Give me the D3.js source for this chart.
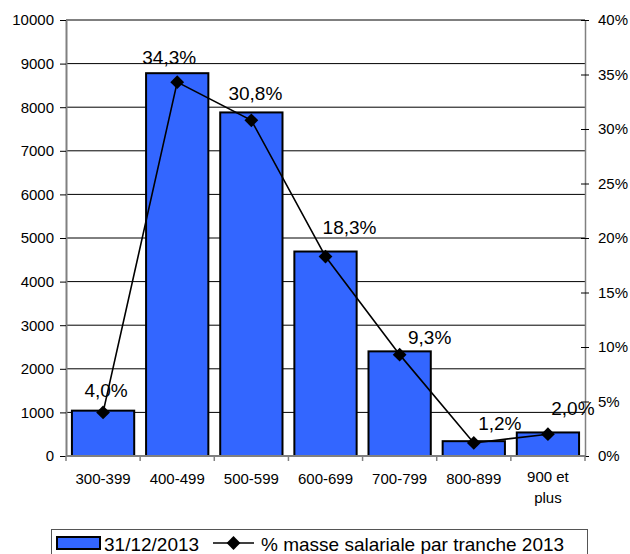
<!DOCTYPE html>
<html>
<head>
<meta charset="utf-8">
<script src="https://cdn.jsdelivr.net/npm/d3@7"></script>
<style>
  html, body { margin: 0; padding: 0; background: #fff; }
  svg text { font-family: "Liberation Sans", Arial, sans-serif; fill: #000; }
</style>
</head>
<body>
<div id="chart"></div>
<script>
// tranches de salaire + effectifs au 31/12/2013 + part de la masse salariale
const CATEGORIES = ["300-399", "400-499", "500-599", "600-699", "700-799", "800-899", "900 et plus"];
const EFFECTIFS = [1040, 8780, 7880, 4690, 2400, 340, 540];
const PCT_MASSE = [4.0, 34.3, 30.8, 18.3, 9.3, 1.2, 2.0];
const LEFT_TICKS = [0, 1000, 2000, 3000, 4000, 5000, 6000, 7000, 8000, 9000, 10000];
const RIGHT_TICKS = [0, 5, 10, 15, 20, 25, 30, 35, 40];
const SERIES_NAMES = ["31/12/2013", "% masse salariale par tranche 2013"];

// label nudges (px) relative to each marker, like the original's placement
const LABEL_NUDGE = [[3, -15], [-8, -18], [4, -20], [24, -23], [30, -11], [26, -13], [25, -19]];

const W = 630, H = 554;
const plot = { left: 66, right: 585, top: 20, bottom: 456 };
const BAR_FILL = "#3366ff";
const AXIS_GREY = "#808080";

const svg = d3.select("#chart").append("svg")
  .attr("width", W)
  .attr("height", H);

const x = d3.scaleBand()
  .domain(CATEGORIES)
  .range([plot.left, plot.right])
  .paddingInner(0.16)
  .paddingOuter(0.08);

const y = d3.scaleLinear().domain([0, 10000]).range([plot.bottom, plot.top]);
const y2 = d3.scaleLinear().domain([0, 40]).range([plot.bottom, plot.top]);

// gridlines
svg.append("g")
  .selectAll("line")
  .data(LEFT_TICKS.filter(d => d > 0))
  .join("line")
  .attr("x1", plot.left).attr("x2", plot.right)
  .attr("y1", d => y(d)).attr("y2", d => y(d))
  .attr("stroke", "#000")
  .attr("stroke-width", 1);

// left axis
const leftAxis = svg.append("g")
  .attr("transform", `translate(${plot.left},0)`)
  .call(d3.axisLeft(y).tickValues(LEFT_TICKS).tickFormat(d3.format("d"))
    .tickSize(6).tickSizeOuter(0).tickPadding(6));
leftAxis.select(".domain").attr("stroke", AXIS_GREY).attr("stroke-width", 2);
leftAxis.selectAll(".tick line").attr("stroke", "#000");
leftAxis.selectAll(".tick text").style("font-size", "15px");

// right axis (cross ticks)
const rightAxis = svg.append("g")
  .attr("transform", `translate(${plot.right},0)`)
  .call(d3.axisRight(y2).tickValues(RIGHT_TICKS).tickSize(4).tickSizeOuter(0).tickPadding(9)
    .tickFormat(d => d + "%"));
rightAxis.select(".domain").attr("stroke", AXIS_GREY).attr("stroke-width", 1.5);
rightAxis.selectAll(".tick line").attr("x1", -4).attr("stroke", "#000");
rightAxis.selectAll(".tick text").style("font-size", "15px");

// bars
svg.append("g")
  .selectAll("rect")
  .data(CATEGORIES)
  .join("rect")
  .attr("x", d => x(d))
  .attr("y", (d, i) => y(EFFECTIFS[i]))
  .attr("width", x.bandwidth())
  .attr("height", (d, i) => y(0) - y(EFFECTIFS[i]))
  .attr("fill", BAR_FILL)
  .attr("stroke", "#000")
  .attr("stroke-width", 2);

// bottom axis
const step = x.step();
const bottom = svg.append("g");
bottom.append("line")
  .attr("x1", plot.left).attr("x2", plot.right)
  .attr("y1", plot.bottom).attr("y2", plot.bottom)
  .attr("stroke", AXIS_GREY).attr("stroke-width", 2);
bottom.selectAll(".xt")
  .data(d3.range(CATEGORIES.length + 1))
  .join("line")
  .attr("class", "xt")
  .attr("x1", i => x(CATEGORIES[0]) - step * 0.08 + i * step)
  .attr("x2", i => x(CATEGORIES[0]) - step * 0.08 + i * step)
  .attr("y1", plot.bottom).attr("y2", plot.bottom + 5)
  .attr("stroke", AXIS_GREY).attr("stroke-width", 1.5);

bottom.selectAll(".xl")
  .data(CATEGORIES)
  .join("text")
  .attr("class", "xl")
  .attr("text-anchor", "middle")
  .style("font-size", "15px")
  .each(function (d) {
    const cx = x(d) + x.bandwidth() / 2;
    const lines = d === "900 et plus" ? ["900 et", "plus"] : [d];
    d3.select(this).selectAll("tspan")
      .data(lines)
      .join("tspan")
      .attr("x", cx)
      .attr("y", (l, k) => (lines.length > 1 ? 482 : 484) + k * 21)
      .text(l => l);
  });

// line series
const pts = CATEGORIES.map((c, i) => ({
  cx: x(c) + x.bandwidth() / 2,
  cy: y2(PCT_MASSE[i]),
  v: PCT_MASSE[i]
}));

svg.append("path")
  .datum(pts)
  .attr("fill", "none")
  .attr("stroke", "#000")
  .attr("stroke-width", 1.6)
  .attr("d", d3.line().x(d => d.cx).y(d => d.cy));

const diamond = d3.symbol().type(d3.symbolSquare).size(95);
svg.append("g")
  .selectAll("path")
  .data(pts)
  .join("path")
  .attr("d", diamond)
  .attr("transform", d => `translate(${d.cx},${d.cy}) rotate(45)`)
  .attr("fill", "#000");

// data labels
const fmt = v => v.toFixed(1).replace(".", ",") + "%";
svg.append("g")
  .selectAll("text")
  .data(pts)
  .join("text")
  .attr("x", (d, i) => d.cx + LABEL_NUDGE[i][0])
  .attr("y", (d, i) => d.cy + LABEL_NUDGE[i][1])
  .attr("text-anchor", "middle")
  .style("font-size", "19px")
  .text(d => fmt(d.v));

// legend
const lg = svg.append("g");
lg.append("rect")
  .attr("x", 51.5).attr("y", 529.5)
  .attr("width", 536).attr("height", 40)
  .attr("fill", "#fff")
  .attr("stroke", "#555")
  .attr("stroke-width", 1);
lg.append("rect")
  .attr("x", 57).attr("y", 537)
  .attr("width", 43).attr("height", 12)
  .attr("fill", BAR_FILL)
  .attr("stroke", "#000")
  .attr("stroke-width", 2);
lg.append("text")
  .attr("x", 104).attr("y", 551)
  .style("font-size", "19px")
  .text(SERIES_NAMES[0]);
lg.append("line")
  .attr("x1", 213).attr("x2", 254)
  .attr("y1", 543).attr("y2", 543)
  .attr("stroke", "#000").attr("stroke-width", 1.6);
lg.append("path")
  .attr("d", diamond)
  .attr("transform", "translate(233.5,543) rotate(45)")
  .attr("fill", "#000");
lg.append("text")
  .attr("x", 261).attr("y", 551)
  .style("font-size", "19px")
  .text(SERIES_NAMES[1]);
</script>
</body>
</html>
